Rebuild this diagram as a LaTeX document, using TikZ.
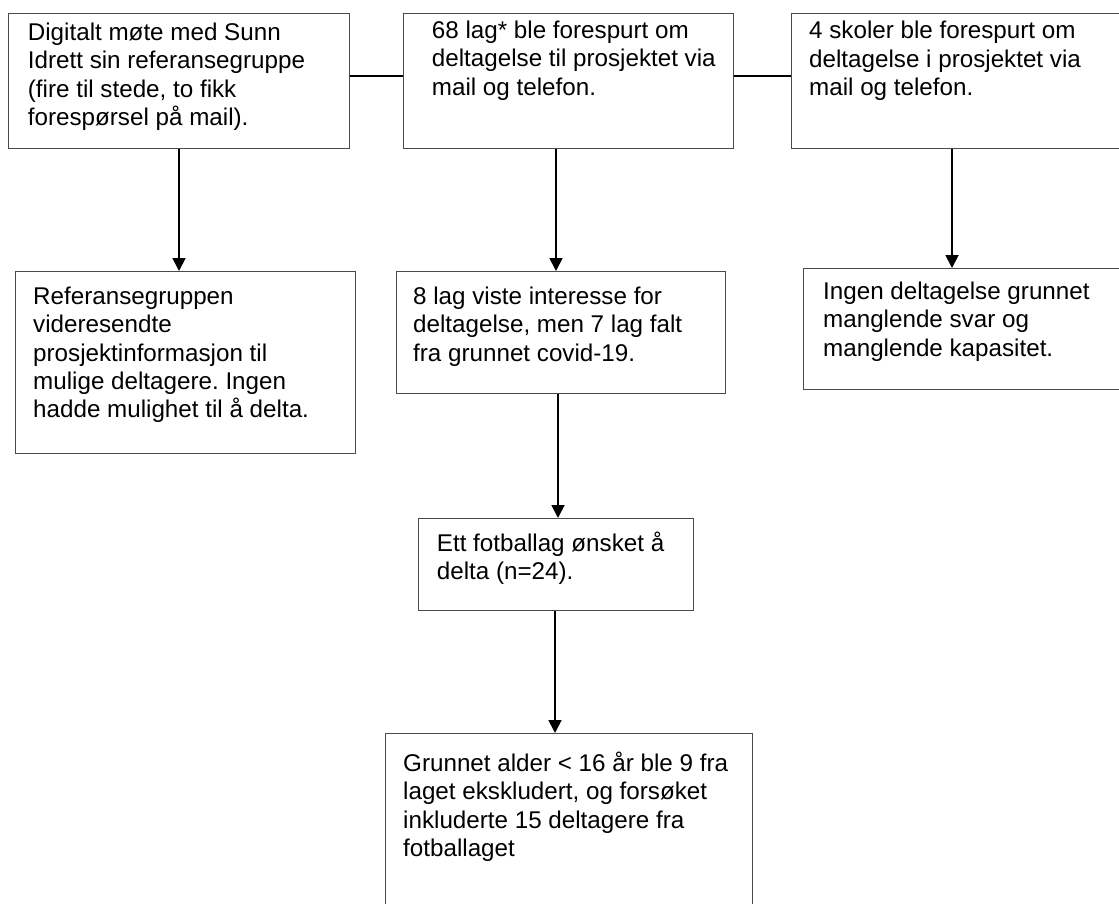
\documentclass[tikz,border=0pt]{standalone}
\usepackage{fontspec}
\setmainfont{Liberation Sans}
\frenchspacing
\usetikzlibrary{arrows.meta}
\definecolor{boxgray}{HTML}{4A4A4A}
\tikzset{
  box/.style={draw=boxgray, line width=1.3pt, inner sep=0pt, anchor=north west, fill=none},
  txt/.style={anchor=north west, inner sep=0pt, align=left, text=black,
              font=\fontsize{24.2}{28.3}\selectfont},
  arr/.style={draw=black, line width=1.8pt, -{Triangle[width=13pt,length=13pt]}},
  link/.style={draw=black, line width=1.8pt}
}
\begin{document}
\begin{tikzpicture}[x=1pt,y=-1pt]
\clip (0,0) rectangle (1119,903);
\fill[white] (0,0) rectangle (1119,903);
% boxes
\node[box, minimum width=341pt, minimum height=135pt] (b1) at (8,13) {};
\node[box, minimum width=330pt, minimum height=135pt] (b2) at (403,13) {};
\node[box, minimum width=340pt, minimum height=135pt] (b3) at (791,13) {};
\node[box, minimum width=340pt, minimum height=182pt] (b4) at (15,271) {};
\node[box, minimum width=329pt, minimum height=122pt] (b5) at (396,271) {};
\node[box, minimum width=330pt, minimum height=121pt] (b6) at (803,268) {};
\node[box, minimum width=275pt, minimum height=92pt] (b7) at (418,518) {};
\node[box, minimum width=367pt, minimum height=200pt] (b8) at (385,733) {};
% texts
\node[txt] (t1) at (27.7,22.7) {Digitalt møte med Sunn\\Idrett sin referansegruppe\\(fire til stede, to fikk\\forespørsel på mail).};
\node[txt] (t2) at (431.7,20.7) {68 lag* ble forespurt om\\deltagelse til prosjektet via\\mail og telefon.};
\node[txt] (t3) at (809,21) {4 skoler ble forespurt om\\deltagelse i prosjektet via\\mail og telefon.};
\node[txt] (t4) at (33,286.7) {Referansegruppen\\videresendte\\prosjektinformasjon til\\mulige deltagere. Ingen\\hadde mulighet til å delta.};
\node[txt] (t5) at (413,286.7) {8 lag viste interesse for\\deltagelse, men 7 lag falt\\fra grunnet covid-19.};
\node[txt] (t6) at (823,281.7) {Ingen deltagelse grunnet\\manglende svar og\\manglende kapasitet.};
\node[txt] (t7) at (436.7,531.7) {Ett fotballag ønsket å\\delta (n=24).};
\node[txt] (t8) at (403,751.7) {Grunnet alder < 16 år ble 9 fra\\laget ekskludert, og forsøket\\inkluderte 15 deltagere fra\\fotballaget};
% connector columns / rows
\coordinate (xa) at (179,0);
\coordinate (xb) at (556,0);
\coordinate (xc) at (952,0);
\coordinate (xd) at (558,0);
\coordinate (xe) at (555,0);
\coordinate (yl) at (0,76);
% horizontal links
\draw[link] (yl -| b1.east) -- (yl -| b2.west);
\draw[link] (yl -| b2.east) -- (yl -| b3.west);
% arrows
\draw[arr] (xa |- b1.south) -- (xa |- b4.north);
\draw[arr] (xb |- b2.south) -- (xb |- b5.north);
\draw[arr] (xc |- b3.south) -- (xc |- b6.north);
\draw[arr] (xd |- b5.south) -- (xd |- b7.north);
\draw[arr] (xe |- b7.south) -- (xe |- b8.north);
\end{tikzpicture}
\end{document}
